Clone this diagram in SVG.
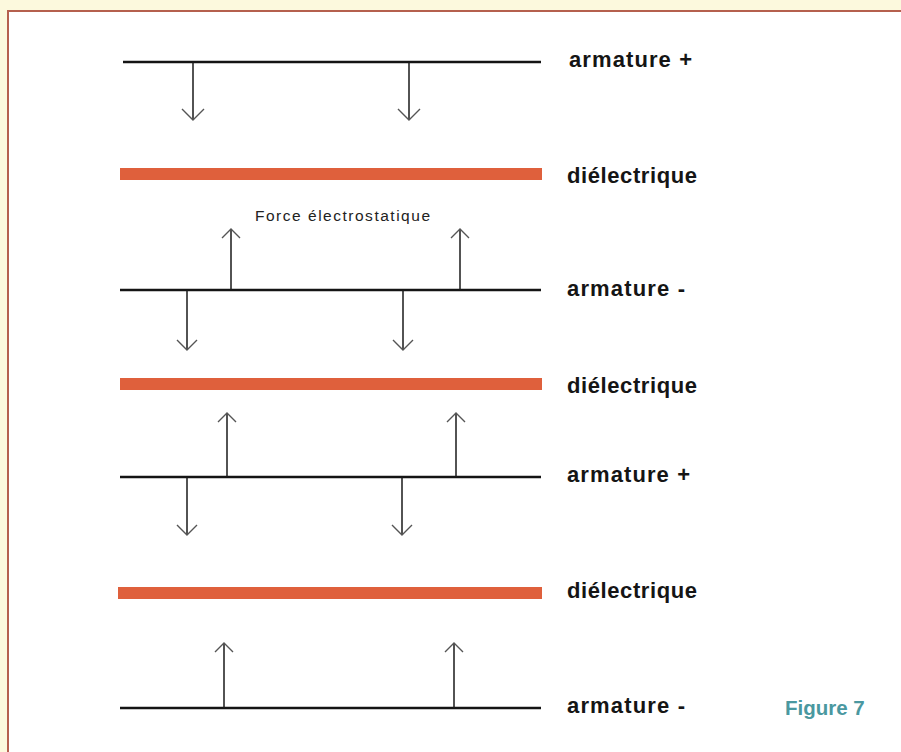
<svg xmlns="http://www.w3.org/2000/svg" width="901" height="752" viewBox="0 0 901 752">
<defs>
<style>
.plate{stroke:#141414;stroke-width:2.6;fill:none}
.diel{fill:#df603c}
.shaft{stroke:#1a1a1a;stroke-width:1.5;fill:none}
.head{stroke:#555;stroke-width:1.4;fill:none}
.lbl{font-family:"Liberation Sans",Arial,sans-serif;font-weight:bold;font-size:22px;fill:#151515}
.note{font-family:"Liberation Sans",Arial,sans-serif;font-size:15.5px;fill:#222}
.fig{font-family:"Liberation Sans",Arial,sans-serif;font-weight:bold;font-size:20.5px;fill:#4a98a0}
</style>
</defs>
<rect x="0" y="0" width="901" height="752" fill="#fcf9dd"/>
<rect x="8" y="11" width="893" height="741" fill="#ffffff"/>
<path d="M8,752 L8,11 L901,11" stroke="#b5604e" stroke-width="2" fill="none"/>

<g id="armature1">
<line class="plate" x1="123" y1="62" x2="541" y2="62"/>
<text class="lbl" x="569" y="67" textLength="123">armature +</text>
</g>
<g id="dielectrique1">
<rect class="diel" x="120" y="168" width="422" height="12"/>
<text class="lbl" x="567" y="183" textLength="130">diélectrique</text>
</g>
<g id="armature2">
<line class="plate" x1="120" y1="290" x2="541" y2="290"/>
<text class="lbl" x="567" y="296" textLength="118">armature -</text>
</g>
<g id="dielectrique2">
<rect class="diel" x="120" y="378" width="422" height="12"/>
<text class="lbl" x="567" y="393" textLength="130">diélectrique</text>
</g>
<g id="armature3">
<line class="plate" x1="120" y1="477" x2="541" y2="477"/>
<text class="lbl" x="567" y="482" textLength="123">armature +</text>
</g>
<g id="dielectrique3">
<rect class="diel" x="118" y="587" width="424" height="12"/>
<text class="lbl" x="567" y="598" textLength="130">diélectrique</text>
</g>
<g id="armature4">
<line class="plate" x1="120" y1="708" x2="541" y2="708"/>
<text class="lbl" x="567" y="713" textLength="118">armature -</text>
</g>
<g id="label-force">
<text class="note" x="255" y="221" textLength="175">Force électrostatique</text>
</g>
<g id="figure-label">
<text class="fig" x="785" y="715">Figure 7</text>
</g>

<g id="connectors">
<line class="shaft" x1="193" y1="62" x2="193" y2="120"/>
<path class="head" d="M182,109 L193,120 L204,109"/>
<line class="shaft" x1="409" y1="62" x2="409" y2="120"/>
<path class="head" d="M398,109 L409,120 L420,109"/>

<line class="shaft" x1="231" y1="290" x2="231" y2="229"/>
<path class="head" d="M222,238 L231,229 L240,238"/>
<line class="shaft" x1="460" y1="290" x2="460" y2="229"/>
<path class="head" d="M451,238 L460,229 L469,238"/>

<line class="shaft" x1="187" y1="290" x2="187" y2="350"/>
<path class="head" d="M177,340 L187,350 L197,340"/>
<line class="shaft" x1="403" y1="290" x2="403" y2="350"/>
<path class="head" d="M393,340 L403,350 L413,340"/>

<line class="shaft" x1="227" y1="477" x2="227" y2="413"/>
<path class="head" d="M218,422 L227,413 L236,422"/>
<line class="shaft" x1="456" y1="477" x2="456" y2="413"/>
<path class="head" d="M447,422 L456,413 L465,422"/>

<line class="shaft" x1="187" y1="477" x2="187" y2="535"/>
<path class="head" d="M177,525 L187,535 L197,525"/>
<line class="shaft" x1="402" y1="477" x2="402" y2="535"/>
<path class="head" d="M392,525 L402,535 L412,525"/>

<line class="shaft" x1="224" y1="708" x2="224" y2="643"/>
<path class="head" d="M215,652 L224,643 L233,652"/>
<line class="shaft" x1="454" y1="708" x2="454" y2="643"/>
<path class="head" d="M445,652 L454,643 L463,652"/>
</g>
</svg>
